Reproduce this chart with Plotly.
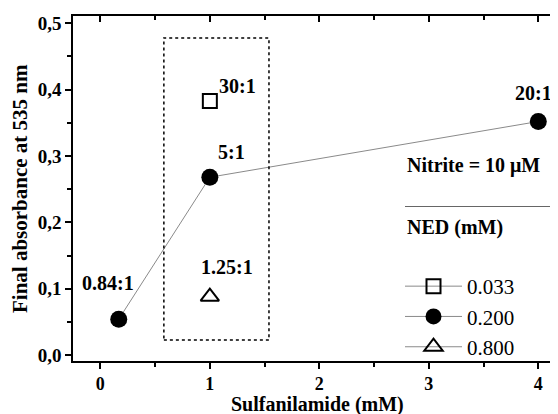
import plotly.graph_objects as go

# Data
ned_labels = ["0.033", "0.200", "0.800"]
sulf_033 = [1.0]
abs_033 = [0.383]
sulf_200 = [0.168, 1.0, 4.0]
abs_200 = [0.054, 0.268, 0.352]
sulf_800 = [1.0]
abs_800 = [0.088]
ratio_labels_200 = ["0.84:1", "5:1", "20:1"]
ratio_label_033 = "30:1"
ratio_label_800 = "1.25:1"
box_x = [0.58, 1.54]
box_y = [0.0226, 0.478]

FONT = "Liberation Serif"
GRAY = "#8a8a8a"
OFF = 8  # page body margin
W, H = 558 - OFF, 414 - OFF
L, R, T, B = 73 - OFF, 0, 16 - OFF, 53
PW, PH = W - L - R, H - T - B

fig = go.Figure()

fig.add_trace(go.Scatter(
    x=sulf_033, y=abs_033, mode="lines+markers", name=ned_labels[0],
    line=dict(color=GRAY, width=1),
    marker=dict(symbol="square-open", size=14, color="black", line=dict(width=2)),
    legendgroup="a",
))
fig.add_trace(go.Scatter(
    x=sulf_200, y=abs_200, mode="lines+markers", name=ned_labels[1],
    line=dict(color=GRAY, width=1),
    marker=dict(symbol="circle", size=17, color="black"),
    legendgroup="b",
))
fig.add_trace(go.Scatter(
    x=sulf_800, y=abs_800, mode="lines+markers", name=ned_labels[2],
    line=dict(color=GRAY, width=1),
    marker=dict(symbol="triangle-up-open", size=16, color="black", line=dict(width=2)),
    legendgroup="c",
))
# invisible trace for top axis
fig.add_trace(go.Scatter(x=[0], y=[0], xaxis="x2", mode="markers",
                         marker=dict(opacity=0), showlegend=False, hoverinfo="skip"))

# Rectangle
fig.add_shape(type="rect", xref="x", yref="y", x0=box_x[0], x1=box_x[1],
              y0=box_y[0], y1=box_y[1], line=dict(color="black", width=1.5, dash="dot"))

lab_font = dict(family=FONT, size=20, color="black")
anns = [
    dict(x=sulf_200[0], y=abs_200[0], text="<b>" + ratio_labels_200[0] + "</b>", xshift=-11, yshift=36),
    dict(x=sulf_200[1], y=abs_200[1], text="<b>" + ratio_labels_200[1] + "</b>", xshift=22, yshift=25),
    dict(x=sulf_200[2], y=abs_200[2], text="<b>" + ratio_labels_200[2] + "</b>", xshift=-5, yshift=28),
    dict(x=sulf_033[0], y=abs_033[0], text="<b>" + ratio_label_033 + "</b>", xshift=28, yshift=15),
    dict(x=sulf_800[0], y=abs_800[0], text="<b>" + ratio_label_800 + "</b>", xshift=17, yshift=30),
]
for a in anns:
    fig.add_annotation(xref="x", yref="y", showarrow=False, font=lab_font, **a)

def px(xp):  # page x -> paper
    return (xp - OFF - L) / PW

def py(yp):  # page y -> paper
    return (H - B - (yp - OFF)) / PH

# Legend header
fig.add_annotation(xref="paper", yref="paper", x=px(405), y=py(165),
                   xanchor="left", yanchor="middle", showarrow=False,
                   text="<b>Nitrite = 10 μM</b>", font=lab_font)
fig.add_annotation(xref="paper", yref="paper", x=px(405), y=py(228),
                   xanchor="left", yanchor="middle", showarrow=False,
                   text="<b>NED (mM)</b>", font=lab_font)
fig.add_shape(type="line", xref="paper", yref="paper", x0=px(405), x1=px(551),
              y0=py(206.5), y1=py(206.5), line=dict(color="#666", width=1.2))

# Axis titles
fig.add_annotation(xref="paper", yref="paper", x=px(317), y=py(404),
                   xanchor="center", yanchor="middle", showarrow=False,
                   text="<b>Sulfanilamide (mM)</b>", font=dict(family=FONT, size=20))
fig.add_annotation(xref="paper", yref="paper", x=px(20), y=py(189),
                   xanchor="center", yanchor="middle", showarrow=False, textangle=-90,
                   text="<b>Final absorbance at 535 nm</b>", font=dict(family=FONT, size=21))

axis_common = dict(showline=True, linecolor="black", linewidth=1.5, showgrid=False,
                   zeroline=False, tickcolor="black", tickwidth=1.5, automargin=False)

fig.update_layout(
    width=W, height=H,
    margin=dict(l=L, r=R, t=T, b=B, autoexpand=False),
    plot_bgcolor="white", paper_bgcolor="white",
    separators=",.",
    font=dict(family=FONT, size=18, color="black"),
    xaxis=dict(range=[-0.25, 4.18], dtick=1, tick0=0, ticks="outside", ticklen=6,
               minor=dict(dtick=0.5, ticks="outside", ticklen=4, tickcolor="black", tickwidth=1.5),
               tickfont=dict(family=FONT, size=18),
               tickprefix="<b>", ticksuffix="</b>",
               **axis_common),
    xaxis2=dict(range=[-0.25, 4.18], overlaying="x", side="top", dtick=1, tick0=0,
                ticks="inside", ticklen=6, showticklabels=False,
                minor=dict(dtick=0.5, ticks="inside", ticklen=4, tickcolor="black", tickwidth=1.5),
                **axis_common),
    yaxis=dict(range=[-0.009, 0.511], dtick=0.1, tick0=0, ticks="outside", ticklen=6,
               tickformat=".1f",
               minor=dict(dtick=0.05, ticks="outside", ticklen=4, tickcolor="black", tickwidth=1.5),
               tickfont=dict(family=FONT, size=19),
               tickprefix="<b>", ticksuffix="</b>",
               **axis_common),
    legend=dict(x=px(400), y=py(266), xanchor="left", yanchor="top",
                bgcolor="rgba(0,0,0,0)", font=dict(family=FONT, size=21),
                itemwidth=57, tracegroupgap=0, itemclick=False),
    showlegend=True,
)

fig.write_html("out.html")
